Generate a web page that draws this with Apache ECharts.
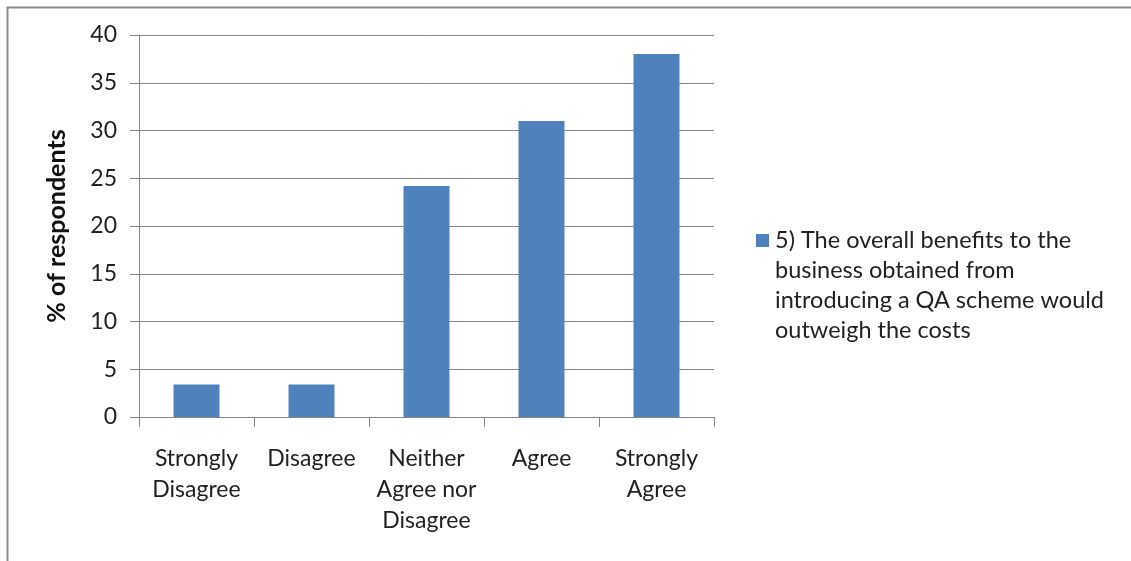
<!DOCTYPE html>
<html><head><meta charset="utf-8">
<script src="https://cdn.jsdelivr.net/npm/echarts@6/dist/echarts.min.js"></script>
<style>html,body{margin:0;padding:0;background:#fff}#c{width:1131px;height:561px}</style>
</head><body><div id="c"></div>
<script>
const categories = ['Strongly\nDisagree', 'Disagree', 'Neither\nAgree nor\nDisagree', 'Agree', 'Strongly\nAgree'];
const values = [3.4, 3.4, 24.2, 31, 38];
const seriesName = '5) The overall benefits to the\nbusiness obtained from\nintroducing a QA scheme would\noutweigh the costs';
const yTicks = { min: 0, max: 40, interval: 5 };
const yTitle = '% of respondents';
const FONT = 'Lato, "Open Sans", sans-serif';
const BAR_COLOR = '#4f81bd';

const chart = echarts.init(document.getElementById('c'));
chart.setOption({
  animation: false,
  graphic: [{
    type: 'rect', shape: { x: 7.5, y: 7.5, width: 1130, height: 560 },
    style: { fill: 'none', stroke: '#8c8c8c', lineWidth: 2 }, silent: true
  }, {
    type: 'rect', shape: { x: 756, y: 234, width: 13, height: 13 },
    style: { fill: BAR_COLOR }, silent: true
  }],
  grid: { left: 139, right: 417, top: 35, bottom: 144 },
  legend: {
    data: [seriesName], orient: 'vertical', left: 753, top: 220,
    itemWidth: 12, itemHeight: 12, itemGap: 10, icon: 'rect',
    itemStyle: { opacity: 0 },
    textStyle: { fontFamily: FONT, fontSize: 23.5, color: '#222', lineHeight: 30 }
  },
  xAxis: {
    type: 'category', data: categories,
    axisLine: { lineStyle: { color: '#868686', width: 1 } },
    axisTick: { show: true, length: 10, lineStyle: { color: '#868686' } },
    axisLabel: { fontFamily: FONT, fontSize: 23, color: '#222', lineHeight: 31, margin: 26, interval: 0 }
  },
  yAxis: {
    type: 'value', min: yTicks.min, max: yTicks.max, interval: yTicks.interval,
    name: yTitle, nameLocation: 'middle', nameGap: 70, nameRotate: 90,
    nameTextStyle: { fontFamily: FONT, fontSize: 25, fontWeight: 'bold', color: '#111' },
    axisLine: { show: true, lineStyle: { color: '#868686', width: 1 } },
    axisTick: { show: true, length: 9, lineStyle: { color: '#868686' } },
    axisLabel: { fontFamily: FONT, fontSize: 23, color: '#222', margin: 22 },
    splitLine: { lineStyle: { color: '#868686', width: 1 } }
  },
  series: [{
    name: seriesName, type: 'bar', data: values,
    barCategoryGap: '60%',
    itemStyle: { color: BAR_COLOR }
  }]
});
</script></body></html>
